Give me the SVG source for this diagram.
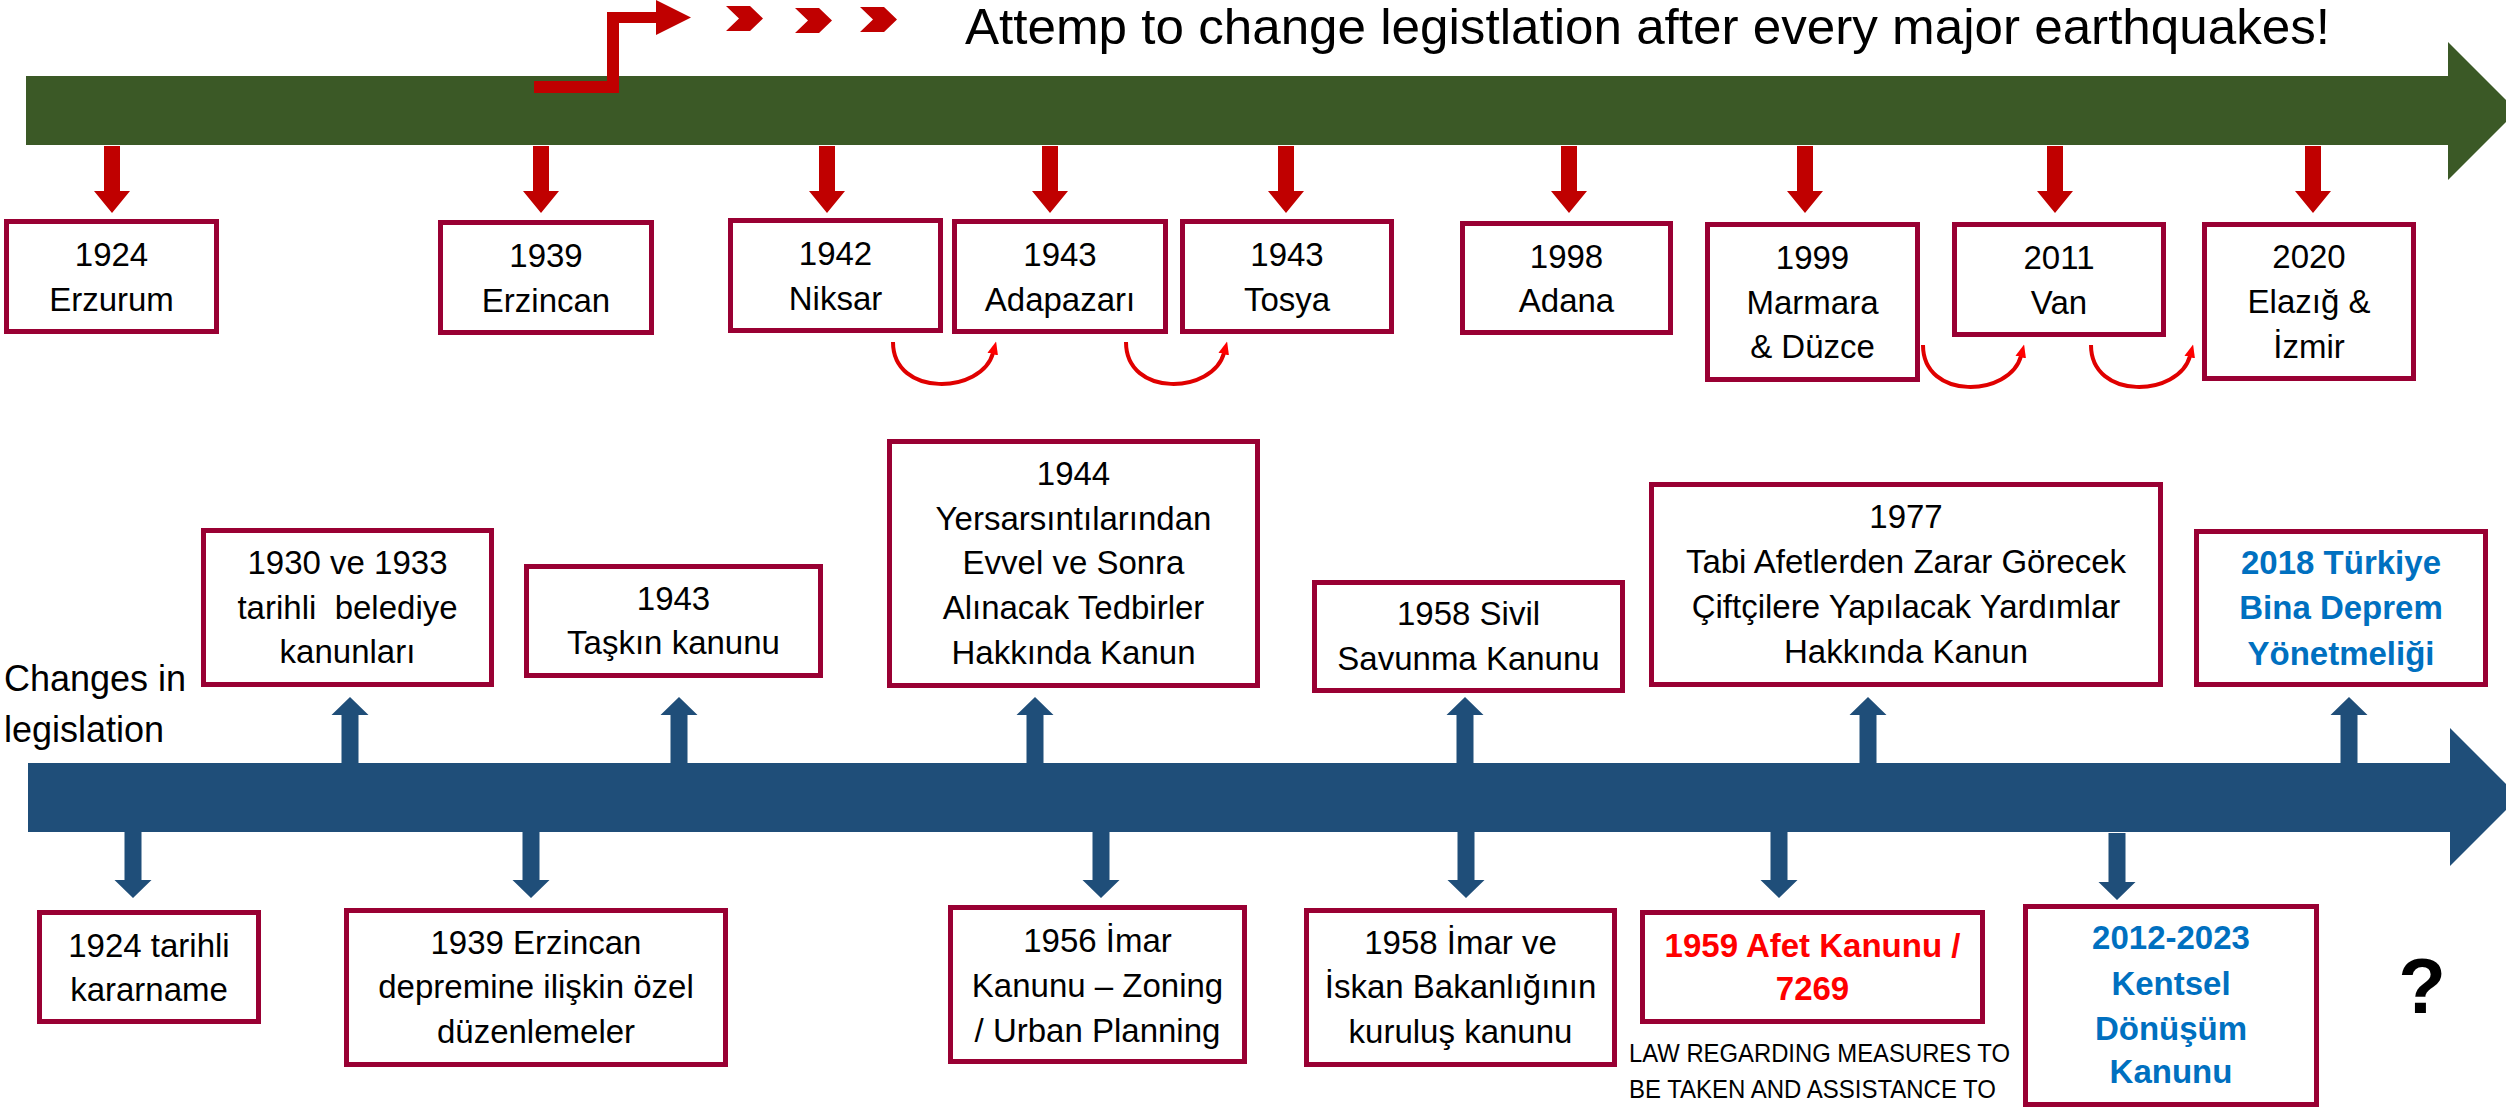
<svg xmlns="http://www.w3.org/2000/svg" xmlns:xlink="http://www.w3.org/1999/xlink" width="2506" height="1109" viewBox="0 0 2506 1109">
<style>
.t{font-family:"Liberation Sans",Arial,sans-serif;font-size:33px;text-anchor:middle;fill:#000}
.bl{font-weight:bold;fill:#0070C0}
.rd{font-weight:bold;fill:#FF0000}
.box{fill:#fff;stroke:#990033;stroke-width:5}
.curve{fill:none;stroke:#E00000;stroke-width:4;marker-end:url(#ah)}
.lbl{font-family:"Liberation Sans",Arial,sans-serif;fill:#000}
</style>
<defs>
<marker id="ah" viewBox="0 0 12 10" refX="1" refY="5" markerWidth="13" markerHeight="11" markerUnits="userSpaceOnUse" orient="auto">
<path d="M0,0 L12,5 L0,10 Z" fill="#FF0000"/>
</marker>
<path id="redDown" d="M-8,146 H8 V191 H18 L0,213 L-18,191 H-8 Z" fill="#C00000"/>
<path id="blueUp" d="M-8.5,764 V715 H-18.5 L0,697 L18.5,715 H8.5 V764 Z" fill="#1F4E79"/>
<path id="blueDown" d="M-8.5,831 V880 H-18.5 L0,898 L18.5,880 H8.5 V831 Z" fill="#1F4E79"/>
<path id="chev" d="M0,0 H24 L37,12.5 L24,25 H0 L13,12.5 Z" fill="#C00000"/>
</defs>
<rect width="2506" height="1109" fill="#fff"/>

<g id="timeline-earthquakes">
<path d="M26,76 H2448 V42 L2517,111 L2448,180 V145 H26 Z" fill="#3B5926"/>
</g>
<g id="timeline-legislation">
<path d="M28,763 H2450 V728 L2519,797 L2450,866 V832 H28 Z" fill="#1F4E79"/>
</g>

<g id="title">
<text class="lbl" x="965" y="44" font-size="50" textLength="1365" lengthAdjust="spacingAndGlyphs">Attemp to change legistlation after every major earthquakes!</text>
<path d="M534,81 H607 V12 H656 V0 L691,17.5 L656,35 V23 H619 V93 H534 Z" fill="#C00000"/>
<use xlink:href="#chev" href="#chev" x="726" y="6"/>
<use xlink:href="#chev" href="#chev" x="795" y="8"/>
<use xlink:href="#chev" href="#chev" x="860" y="7"/>
</g>

<g id="side-label">
<text class="lbl" x="4" y="691" font-size="36">Changes in</text>
<text class="lbl" x="4" y="742" font-size="36">legislation</text>
</g>

<g id="connectors">
<use xlink:href="#redDown" href="#redDown" x="112"/>
<use xlink:href="#redDown" href="#redDown" x="541"/>
<use xlink:href="#redDown" href="#redDown" x="827"/>
<use xlink:href="#redDown" href="#redDown" x="1050"/>
<use xlink:href="#redDown" href="#redDown" x="1286"/>
<use xlink:href="#redDown" href="#redDown" x="1569"/>
<use xlink:href="#redDown" href="#redDown" x="1805"/>
<use xlink:href="#redDown" href="#redDown" x="2055"/>
<use xlink:href="#redDown" href="#redDown" x="2313"/>
<path class="curve" d="M893,342 C893,398 982,394 993,353"/>
<path class="curve" d="M1126,342 C1126,398 1213,394 1224,353"/>
<path class="curve" d="M1923,345 C1923,401 2010,397 2021,356"/>
<path class="curve" d="M2091,345 C2091,401 2179,397 2190,356"/>
<use xlink:href="#blueUp" href="#blueUp" x="350"/>
<use xlink:href="#blueUp" href="#blueUp" x="679"/>
<use xlink:href="#blueUp" href="#blueUp" x="1035"/>
<use xlink:href="#blueUp" href="#blueUp" x="1465"/>
<use xlink:href="#blueUp" href="#blueUp" x="1868"/>
<use xlink:href="#blueUp" href="#blueUp" x="2349"/>
<use xlink:href="#blueDown" href="#blueDown" x="133"/>
<use xlink:href="#blueDown" href="#blueDown" x="531"/>
<use xlink:href="#blueDown" href="#blueDown" x="1101"/>
<use xlink:href="#blueDown" href="#blueDown" x="1466"/>
<use xlink:href="#blueDown" href="#blueDown" x="1779"/>
<path d="M2108.5,833 V882 H2098.5 L2117,900 L2135.5,882 H2125.5 V833 Z" fill="#1F4E79"/>
</g>

<g id="eq-1924">
<rect class="box" x="6.5" y="221.5" width="210" height="110"/>
<text class="t" x="111.5" y="266">1924</text>
<text class="t" x="111.5" y="311">Erzurum</text>
</g>
<g id="eq-1939">
<rect class="box" x="440.5" y="222.5" width="211" height="110"/>
<text class="t" x="546" y="267">1939</text>
<text class="t" x="546" y="312">Erzincan</text>
</g>
<g id="eq-1942">
<rect class="box" x="730.5" y="220.5" width="210" height="110"/>
<text class="t" x="835.5" y="265">1942</text>
<text class="t" x="835.5" y="310">Niksar</text>
</g>
<g id="eq-1943a">
<rect class="box" x="954.5" y="221.5" width="211" height="110"/>
<text class="t" x="1060" y="266">1943</text>
<text class="t" x="1060" y="311">Adapazarı</text>
</g>
<g id="eq-1943b">
<rect class="box" x="1182.5" y="221.5" width="209" height="110"/>
<text class="t" x="1287" y="266">1943</text>
<text class="t" x="1287" y="311">Tosya</text>
</g>
<g id="eq-1998">
<rect class="box" x="1462.5" y="223.5" width="208" height="109"/>
<text class="t" x="1566.5" y="268">1998</text>
<text class="t" x="1566.5" y="312">Adana</text>
</g>
<g id="eq-1999">
<rect class="box" x="1707.5" y="224.5" width="210" height="155"/>
<text class="t" x="1812.5" y="269">1999</text>
<text class="t" x="1812.5" y="314">Marmara</text>
<text class="t" x="1812.5" y="358">&amp; Düzce</text>
</g>
<g id="eq-2011">
<rect class="box" x="1954.5" y="224.5" width="209" height="110"/>
<text class="t" x="2059" y="269">2011</text>
<text class="t" x="2059" y="314">Van</text>
</g>
<g id="eq-2020">
<rect class="box" x="2204.5" y="224.5" width="209" height="154"/>
<text class="t" x="2309" y="268">2020</text>
<text class="t" x="2309" y="313">Elazığ &amp;</text>
<text class="t" x="2309" y="358">İzmir</text>
</g>

<g id="law-1930">
<rect class="box" x="203.5" y="530.5" width="288" height="154"/>
<text class="t" x="347.5" y="574">1930 ve 1933</text>
<text class="t" x="347.5" y="619" xml:space="preserve">tarihli  belediye</text>
<text class="t" x="347.5" y="663">kanunları</text>
</g>
<g id="law-1943">
<rect class="box" x="526.5" y="566.5" width="294" height="109"/>
<text class="t" x="673.5" y="610">1943</text>
<text class="t" x="673.5" y="654">Taşkın kanunu</text>
</g>
<g id="law-1944">
<rect class="box" x="889.5" y="441.5" width="368" height="244"/>
<text class="t" x="1073.5" y="485">1944</text>
<text class="t" x="1073.5" y="530">Yersarsıntılarından</text>
<text class="t" x="1073.5" y="574">Evvel ve Sonra</text>
<text class="t" x="1073.5" y="619">Alınacak Tedbirler</text>
<text class="t" x="1073.5" y="664">Hakkında Kanun</text>
</g>
<g id="law-1958-sivil">
<rect class="box" x="1314.5" y="582.5" width="308" height="108"/>
<text class="t" x="1468.5" y="625">1958 Sivil</text>
<text class="t" x="1468.5" y="670">Savunma Kanunu</text>
</g>
<g id="law-1977">
<rect class="box" x="1651.5" y="484.5" width="509" height="200"/>
<text class="t" x="1906" y="528">1977</text>
<text class="t" x="1906" y="573">Tabi Afetlerden Zarar Görecek</text>
<text class="t" x="1906" y="618">Çiftçilere Yapılacak Yardımlar</text>
<text class="t" x="1906" y="663">Hakkında Kanun</text>
</g>
<g id="law-2018">
<rect class="box" x="2196.5" y="531.5" width="289" height="153"/>
<text class="t bl" x="2341" y="574">2018 Türkiye</text>
<text class="t bl" x="2341" y="619">Bina Deprem</text>
<text class="t bl" x="2341" y="665">Yönetmeliği</text>
</g>

<g id="law-1924">
<rect class="box" x="39.5" y="912.5" width="219" height="109"/>
<text class="t" x="149" y="957">1924 tarihli</text>
<text class="t" x="149" y="1001">kararname</text>
</g>
<g id="law-1939">
<rect class="box" x="346.5" y="910.5" width="379" height="154"/>
<text class="t" x="536" y="954">1939 Erzincan</text>
<text class="t" x="536" y="998">depremine ilişkin özel</text>
<text class="t" x="536" y="1043">düzenlemeler</text>
</g>
<g id="law-1956">
<rect class="box" x="950.5" y="907.5" width="294" height="154"/>
<text class="t" x="1097.5" y="952">1956 İmar</text>
<text class="t" x="1097.5" y="997">Kanunu – Zoning</text>
<text class="t" x="1097.5" y="1042">/ Urban Planning</text>
</g>
<g id="law-1958-imar">
<rect class="box" x="1306.5" y="910.5" width="308" height="154"/>
<text class="t" x="1460.5" y="954">1958 İmar ve</text>
<text class="t" x="1460.5" y="998">İskan Bakanlığının</text>
<text class="t" x="1460.5" y="1043">kuruluş kanunu</text>
</g>
<g id="law-1959">
<rect class="box" x="1642.5" y="912.5" width="340" height="109"/>
<text class="t rd" x="1812.5" y="957">1959 Afet Kanunu /</text>
<text class="t rd" x="1812.5" y="1000">7269</text>
<text class="lbl" x="1629" y="1062" font-size="25" textLength="381" lengthAdjust="spacingAndGlyphs">LAW REGARDING MEASURES TO</text>
<text class="lbl" x="1629" y="1098" font-size="25" textLength="367" lengthAdjust="spacingAndGlyphs">BE TAKEN AND ASSISTANCE TO</text>
</g>
<g id="law-2012">
<rect class="box" x="2025.5" y="906.5" width="291" height="198"/>
<text class="t bl" x="2171" y="949">2012-2023</text>
<text class="t bl" x="2171" y="995">Kentsel</text>
<text class="t bl" x="2171" y="1040">Dönüşüm</text>
<text class="t bl" x="2171" y="1083">Kanunu</text>
</g>
<g id="future">
<text class="lbl" x="2422" y="1013" font-size="78" font-weight="bold" text-anchor="middle">?</text>
</g>
</svg>
